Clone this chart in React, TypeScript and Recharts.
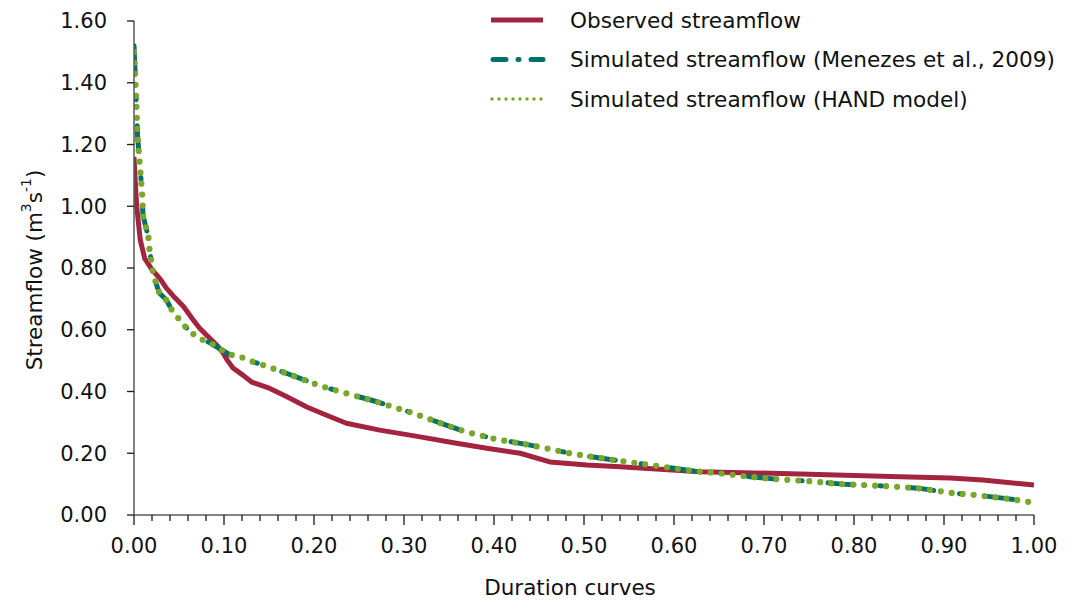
import { LineChart, Line, XAxis, YAxis } from 'recharts';

// Flow duration curves: exceedance fraction vs streamflow (m3/s)
const obsX = [0, 0.001, 0.003, 0.007, 0.012, 0.02, 0.029, 0.036, 0.045, 0.055, 0.065, 0.073, 0.085, 0.092, 0.099, 0.104, 0.11, 0.121, 0.131, 0.151, 0.17, 0.192, 0.214, 0.236, 0.273, 0.318, 0.355, 0.392, 0.429, 0.462, 0.503, 0.54, 0.629, 0.74, 0.851, 0.907, 0.943, 1.0];
const obsY = [1.16, 1.1, 1.0, 0.89, 0.83, 0.795, 0.765, 0.735, 0.705, 0.675, 0.635, 0.605, 0.57, 0.55, 0.525, 0.5, 0.476, 0.453, 0.43, 0.41, 0.383, 0.35, 0.323, 0.297, 0.275, 0.253, 0.234, 0.216, 0.2, 0.172, 0.162, 0.156, 0.14, 0.133, 0.124, 0.12, 0.113, 0.097];

const menezesX = [0, 0.001, 0.002, 0.003, 0.004, 0.005, 0.006, 0.007, 0.008, 0.009, 0.01, 0.013, 0.016, 0.017, 0.021, 0.024, 0.028, 0.036, 0.042, 0.049, 0.057, 0.064, 0.074, 0.085, 0.096, 0.106, 0.118, 0.128, 0.14, 0.149, 0.173, 0.207, 0.231, 0.266, 0.288, 0.31, 0.343, 0.368, 0.403, 0.437, 0.46, 0.484, 0.51, 0.548, 0.573, 0.598, 0.623, 0.648, 0.684, 0.71, 0.748, 0.787, 0.832, 0.871, 0.91, 0.934, 0.97, 1.0];
const menezesY = [1.52, 1.45, 1.38, 1.3, 1.225, 1.19, 1.15, 1.115, 1.08, 1.04, 0.97, 0.935, 0.9, 0.865, 0.787, 0.755, 0.72, 0.696, 0.664, 0.638, 0.61, 0.59, 0.57, 0.557, 0.537, 0.52, 0.513, 0.5, 0.489, 0.48, 0.455, 0.418, 0.398, 0.37, 0.35, 0.33, 0.295, 0.27, 0.245, 0.228, 0.215, 0.2, 0.188, 0.172, 0.162, 0.152, 0.142, 0.136, 0.124, 0.117, 0.11, 0.1, 0.094, 0.087, 0.071, 0.065, 0.053, 0.04];

const handX = [0, 0.001, 0.002, 0.003, 0.004, 0.005, 0.006, 0.007, 0.008, 0.009, 0.01, 0.013, 0.016, 0.017, 0.021, 0.024, 0.028, 0.036, 0.042, 0.049, 0.057, 0.064, 0.074, 0.085, 0.096, 0.106, 0.118, 0.128, 0.14, 0.149, 0.173, 0.207, 0.231, 0.266, 0.288, 0.31, 0.343, 0.368, 0.403, 0.437, 0.46, 0.484, 0.51, 0.548, 0.573, 0.598, 0.623, 0.648, 0.684, 0.71, 0.748, 0.787, 0.832, 0.871, 0.91, 0.934, 0.97, 1.0];
const handY = [1.5, 1.45, 1.38, 1.3, 1.225, 1.19, 1.15, 1.115, 1.08, 1.04, 0.97, 0.935, 0.9, 0.865, 0.787, 0.755, 0.72, 0.696, 0.664, 0.638, 0.61, 0.59, 0.57, 0.557, 0.537, 0.52, 0.513, 0.5, 0.489, 0.48, 0.455, 0.418, 0.398, 0.37, 0.35, 0.33, 0.295, 0.27, 0.245, 0.228, 0.215, 0.2, 0.188, 0.172, 0.162, 0.152, 0.142, 0.136, 0.124, 0.117, 0.11, 0.1, 0.094, 0.087, 0.071, 0.065, 0.053, 0.04];

const yTicks = [0, 0.2, 0.4, 0.6, 0.8, 1.0, 1.2, 1.4, 1.6];
const xMinorStep = 0.02;
const xTicks = Array.from({ length: 51 }, (_, i) => +(i * xMinorStep).toFixed(2));

const seriesNames = [
  'Observed streamflow',
  'Simulated streamflow (Menezes et al., 2009)',
  'Simulated streamflow (HAND model)'
];

const RED = '#a3243f';
const TEAL = '#00706b';
const GREEN = '#7aa72b';
const FONT = '"DejaVu Sans", sans-serif';

const toPoints = (xs: number[], ys: number[]) => xs.map((x, i) => ({ x, y: ys[i] }));

const observed = toPoints(obsX, obsY);
const menezes = toPoints(menezesX, menezesY);
const hand = toPoints(handX, handY);

const XTick = ({ x, y, payload }: any) => {
  const v = payload.value;
  const major = Math.abs(v * 10 - Math.round(v * 10)) < 1e-6;
  return (
    <g>
      <line x1={x} x2={x} y1={y} y2={y + (major ? 10 : 6)} stroke="#1a1a1a" strokeWidth={1.3} />
      {major && (
        <text x={x} y={y + 38} textAnchor="middle" fontFamily={FONT} fontSize={21} fill="#111">
          {v.toFixed(2)}
        </text>
      )}
    </g>
  );
};

const XLabel = () => (
  <text x={570} y={595} textAnchor="middle" fontFamily={FONT} fontSize={21.5} fill="#111">
    Duration curves
  </text>
);

const YLabel = ({ viewBox }: any) => {
  const cx = 34;
  const cy = viewBox ? viewBox.y + viewBox.height / 2 + 2 : 270;
  return (
    <text
      x={cx}
      y={cy}
      transform={`rotate(-90, ${cx}, ${cy})`}
      textAnchor="middle"
      dominantBaseline="central"
      fontFamily={FONT}
      fontSize={21.5}
      fill="#111"
    >
      Streamflow (m
      <tspan dy={-8} fontSize={14}>3</tspan>
      <tspan dy={8}>s</tspan>
      <tspan dy={-8} fontSize={14}>-1</tspan>
      <tspan dy={8}>)</tspan>
    </text>
  );
};

const LegendBox = () => (
  <svg width={600} height={120} style={{ position: 'absolute', left: 480, top: 0 }}>
    {seriesNames.map((name, i) => {
      const cy = 20 + i * 39.5;
      return (
        <g key={name}>
          {i === 0 && <line x1={11} x2={63} y1={cy} y2={cy} stroke={RED} strokeWidth={5} />}
          {i === 1 && (
            <line x1={13} x2={63} y1={cy} y2={cy} stroke={TEAL} strokeWidth={5}
              strokeDasharray="13 12 1 12" strokeLinecap="round" />
          )}
          {i === 2 && (
            <line x1={12} x2={63} y1={cy} y2={cy} stroke={GREEN} strokeWidth={3.5}
              strokeDasharray="0 7" strokeLinecap="round" />
          )}
          <text x={90} y={cy} dominantBaseline="central" fontFamily={FONT} fontSize={21.6} fill="#111">
            {name}
          </text>
        </g>
      );
    })}
  </svg>
);

export default function App() {
  return (
    <div style={{ position: 'absolute', left: 0, top: 0, width: 1073, height: 600, background: '#fff' }}>
      <LineChart width={1073} height={600} margin={{ top: 21, right: 39, left: 0, bottom: 0 }}>
        <XAxis
          type="number"
          dataKey="x"
          domain={[0, 1]}
          ticks={xTicks}
          interval={0}
          allowDataOverflow
          height={85}
          tickSize={0}
          tickMargin={0}
          tickLine={false}
          tick={<XTick />}
          axisLine={{ stroke: '#595959', strokeWidth: 1.5 }}
          label={<XLabel />}
        />
        <YAxis
          type="number"
          dataKey="y"
          domain={[0, 1.6]}
          ticks={yTicks}
          interval={0}
          width={134}
          tickSize={7}
          tickMargin={20}
          tickFormatter={(v: number) => v.toFixed(2)}
          tick={{ fontFamily: FONT, fontSize: 21, fill: '#111' }}
          tickLine={{ stroke: '#1a1a1a', strokeWidth: 1.3 }}
          axisLine={{ stroke: '#595959', strokeWidth: 1.5 }}
          label={<YLabel />}
        />
        <Line
          data={observed}
          dataKey="y"
          name={seriesNames[0]}
          type="linear"
          stroke={RED}
          strokeWidth={5}
          strokeLinejoin="round"
          dot={false}
          isAnimationActive={false}
        />
        <Line
          data={menezes}
          dataKey="y"
          name={seriesNames[1]}
          type="linear"
          stroke={TEAL}
          strokeWidth={5}
          strokeDasharray="26 26 2 26"
          strokeLinecap="round"
          dot={false}
          isAnimationActive={false}
        />
        <Line
          data={hand}
          dataKey="y"
          name={seriesNames[2]}
          type="linear"
          stroke={GREEN}
          strokeWidth={6.2}
          strokeDasharray="0 11"
          strokeLinecap="round"
          dot={false}
          isAnimationActive={false}
        />
      </LineChart>
      <LegendBox />
    </div>
  );
}
